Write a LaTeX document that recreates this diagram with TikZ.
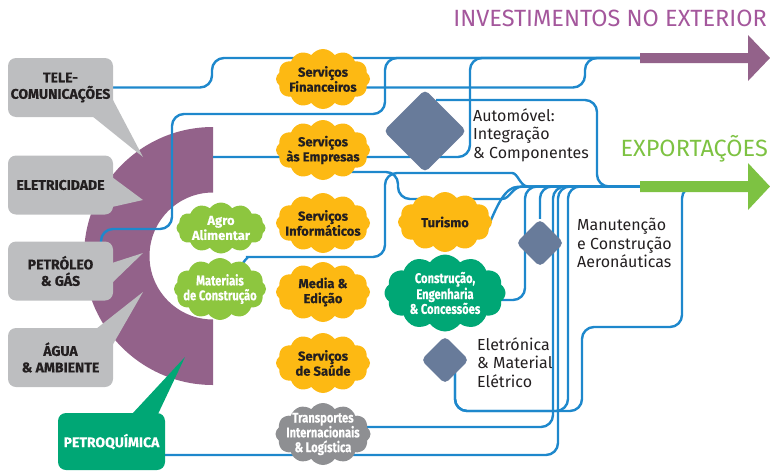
\documentclass[tikz,border=0pt]{standalone}
\usepackage{fontspec}
\setmainfont{Fira Sans}
\newfontfamily\cf{Fira Sans}[BoldFeatures={FakeBold=0.3}]
\newfontfamily\cfn{Fira Sans}[FakeStretch=0.8,BoldFeatures={FakeBold=0.3}]
\usetikzlibrary{shapes.symbols,shapes.geometric}
\definecolor{lineblue}{HTML}{1E88CC}
\definecolor{ringpurple}{HTML}{93628A}
\definecolor{titlepink}{HTML}{A4579C}
\definecolor{expgreen}{HTML}{7DC242}
\definecolor{cloudorange}{HTML}{FDB913}
\definecolor{cloudgreen}{HTML}{8DC63F}
\definecolor{tealgreen}{HTML}{00A775}
\definecolor{cloudgray}{HTML}{8E8F92}
\definecolor{boxgray}{HTML}{BDBEC0}
\definecolor{diablue}{HTML}{687B9A}
\definecolor{textdark}{HTML}{231F20}
\pgfdeclarelayer{ringlayer}
\pgfdeclarelayer{linelayer}
\pgfsetlayers{ringlayer,linelayer,main}
\begin{document}
\begin{tikzpicture}[x=1pt,y=-1pt,
  route/.style={draw=lineblue,line width=2.4pt,rounded corners=12pt},
  puff/.style={cloud,cloud puffs=12,cloud puff arc=110,cloud ignores aspect,inner xsep=-14pt,inner ysep=-10pt,align=center,font=\cf\bfseries\fontsize{13}{15}\selectfont},
  narrowtext/.style={font=\cfn\bfseries\fontsize{14}{14.8}\selectfont},
  ocloud/.style={puff,fill=cloudorange,text=textdark,minimum width=94pt,minimum height=60pt},
  lbox/.style={fill=boxgray,rounded corners=8pt,minimum width=105pt,minimum height=59pt,inner sep=0pt,align=center,text=textdark,font=\cf\bfseries\fontsize{14}{16.5}\selectfont},
  dia/.style={diamond,fill=diablue,inner sep=0pt,rounded corners=5pt},
  lbl/.style={font=\fontsize{16}{18.5}\selectfont,text=textdark,align=left,inner sep=0pt,anchor=north west}]
\useasboundingbox (0,0) rectangle (770,471);

% half ring
\begin{pgfonlayer}{ringlayer}
\fill[ringpurple] (213,127) arc[start angle=-90,end angle=-270,radius=129] -- (213,319.5) arc[start angle=90,end angle=270,radius=63.5] -- cycle;
\end{pgfonlayer}

% callout pointers
\fill[boxgray] (92,116) -- (113,100) -- (143,157) -- cycle;
\fill[boxgray] (112,177) -- (143,200) -- (112,207) -- cycle;
\fill[boxgray] (112,263) -- (143,253) -- (112,283) -- cycle;
\fill[boxgray] (96,329) -- (143,292) -- (112,346) -- cycle;
\fill[tealgreen] (132,414) -- (185,357) -- (158,414) -- cycle;

% left boxes
\node[lbox] (tele) at (60.5,87.5) {TELE-\\COMUNICAÇÕES};
\node[lbox] (elec) at (60.5,185) {ELETRICIDADE};
\node[lbox] (petro) at (60.5,271) {PETRÓLEO\\\& GÁS};
\node[lbox] (agua) at (60.5,357.5) {ÁGUA\\\& AMBIENTE};
\node[lbox,fill=tealgreen,text=white,minimum width=107pt,minimum height=57pt] (pq) at (111.5,441.5) {PETROQUÍMICA};

% clouds
\node[ocloud] (fin) at (323,79) {Serviços\\Financeiros};
\node[ocloud] (emp) at (323,150) {Serviços\\às Empresas};
\node[ocloud] (inf) at (323,223) {Serviços\\Informáticos};
\node[ocloud] (med) at (323,292) {Media \&\\Edição};
\node[ocloud] (sau) at (323,363) {Serviços\\de Saúde};
\node[puff,narrowtext,fill=cloudgray,text=white,minimum width=95pt,minimum height=62pt] (trans) at (323,434) {Transportes\\Internacionais\\\& Logística};
\node[ocloud] (tur) at (445,222) {Turismo};
\node[puff,narrowtext,fill=tealgreen,text=white,minimum width=121pt,minimum height=77pt] (cons) at (445,293) {Construção,\\Engenharia\\\& Concessões};
\node[puff,fill=cloudgreen,text=white,minimum width=89pt,minimum height=51pt] (agro) at (221,228) {Agro\\Alimentar};
\node[puff,narrowtext,fill=cloudgreen,text=white,minimum width=92pt,minimum height=62pt] (mat) at (220,289) {Materiais\\de Construção};

% diamonds
\node[dia,minimum width=83pt,minimum height=83pt] (auto) at (425,131) {};
\node[dia,minimum width=48pt,minimum height=48pt] (manu) at (540,243) {};
\node[dia,minimum width=48pt,minimum height=48pt] (elet) at (445,360) {};

% labels
\node[lbl] (autot) at (473,108) {Automóvel:\\Integração\\\& Componentes};
\node[lbl] (manut) at (577,218) {Manutenção\\e Construção\\Aeronáuticas};
\node[lbl] (elett) at (477,337) {Eletrónica\\\& Material\\Elétrico};

% arrows
\coordinate (inv) at (645,58);
\coordinate (exp) at (645,186.5);
\fill[ringpurple] (640,53) -- (748,53) -- (748,35) -- (770,58) -- (748,81) -- (748,63) -- (640,63) -- cycle;
\fill[expgreen] (640,181) -- (748,181) -- (748,163) -- (770,186.5) -- (748,210) -- (748,192) -- (640,192) -- cycle;

% titles
\node[anchor=base east,text=titlepink,font=\fontsize{23.5}{27}\selectfont,inner sep=0pt] (invt) at (767,27) {INVESTIMENTOS NO EXTERIOR};
\node[anchor=base east,text=expgreen,font=\fontsize{23.5}{27}\selectfont,inner sep=0pt] (expt) at (768,156) {EXPORTAÇÕES};

% routes
\begin{pgfonlayer}{linelayer}
\draw[route] (tele.east) -- (212,87.5) -- (212,58) -- (inv);
\draw[route] (fin.center |- tele.east) -- (585,87.5) -- (585,58) -- (inv);
\draw[route] (101,244) -- (101,229) -- (172,229) -- (172,114) -- (385,114) -- (385,58) -- (inv);
\draw[route] (213,157) -- (470,157) -- (470,58) -- (inv);
\draw[route] (436,100) -- (597,100) -- (597,186.5) -- (exp);
\draw[route] (350,172) -- (398,172) -- (398,199) -- (490,199) .. controls (510,199) and (512,186.5) .. (535,186.5) -- (exp);
\draw[route] (243,263) .. controls (246,258) and (250,257) .. (258,257) -- (385,257) -- (385,173) -- (500,173) .. controls (518,173) and (520,186.5) .. (540,186.5) -- (exp);
\draw[route] (486,232) .. controls (497,205) and (505,187) .. (530,186.5) -- (exp);
\draw[route] (cons.center |- 0,300) -- (525,300) -- (525,186.5) -- (exp);
\draw[route] (manu.north) -- (540,186.5) -- (exp);
\draw[route] (trans.center |- 0,427) -- (553,427) -- (553,186.5) -- (exp);
\draw[route] (160,455) -- (558,455) -- (558,186.5) -- (exp);
\draw[route] (455,372) -- (455,411) -- (568,411) -- (568,186.5) -- (exp);
\draw[route] (455,372) -- (455,411) -- (582,411) -- (582,327) -- (682,327) -- (682,186.5) -- (700,186.5);
\end{pgfonlayer}
\end{tikzpicture}
\end{document}
